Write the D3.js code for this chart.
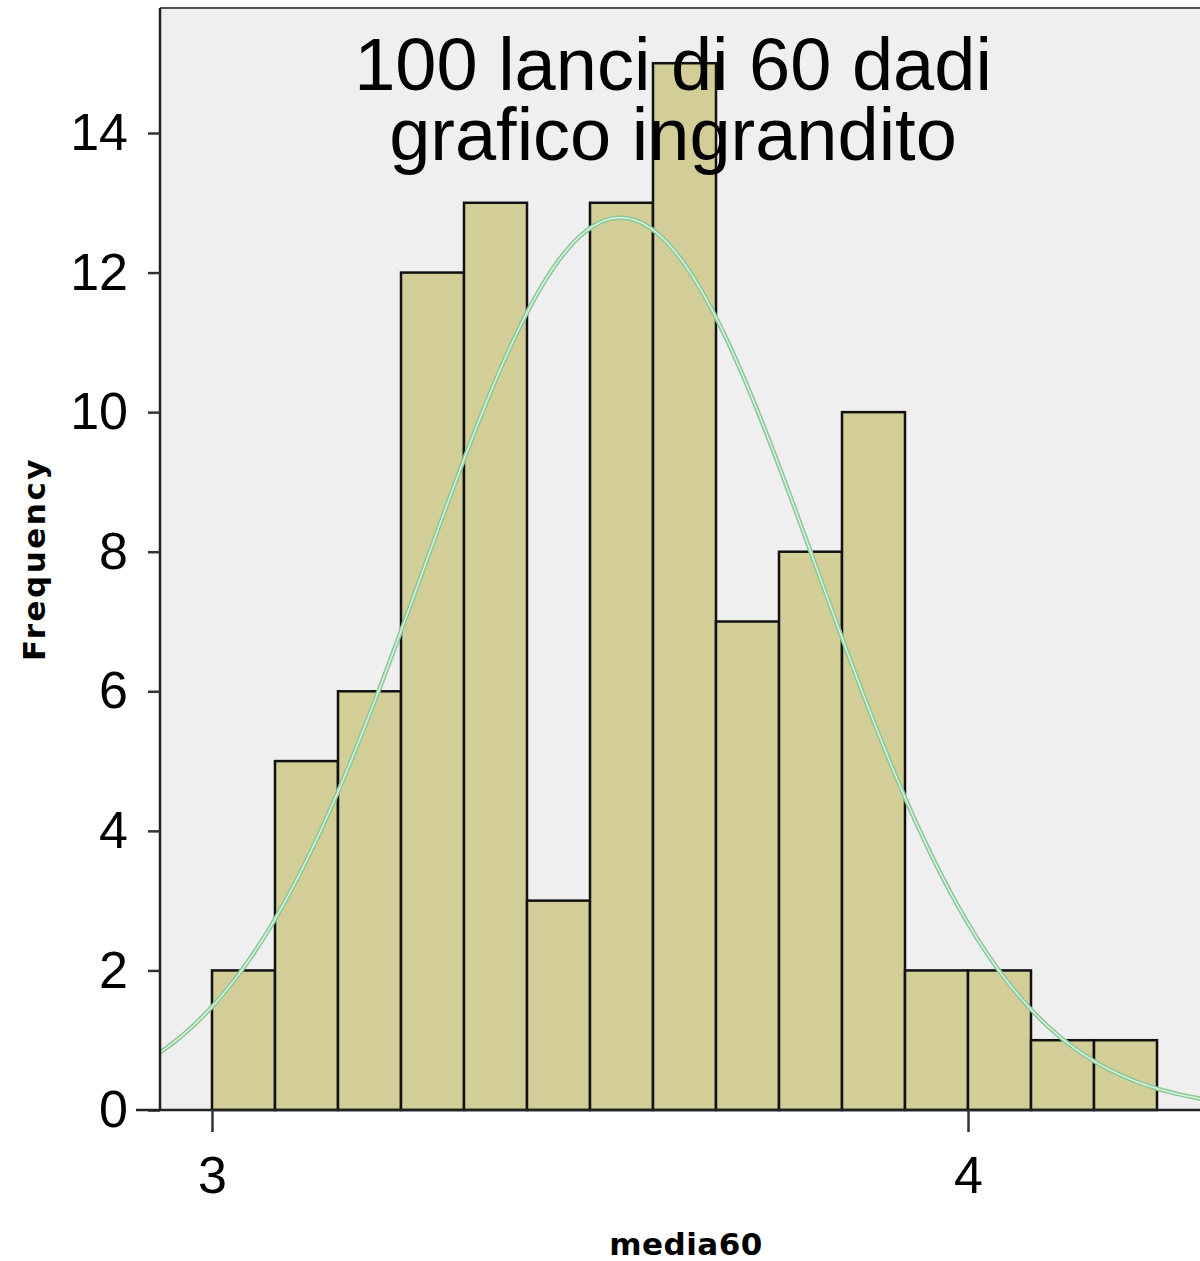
<!DOCTYPE html>
<html><head><meta charset="utf-8">
<script src="https://cdn.jsdelivr.net/npm/d3@7"></script>
<style>body{margin:0;background:#fff}svg{display:block}</style>
</head><body>
<svg id="c" width="1200" height="1261"></svg>
<script>
const binStart = 3.0;
const binWidth = 1/12;
const counts = [2,5,6,12,13,3,13,15,7,8,10,2,2,1,1];
const yTicks = [0,2,4,6,8,10,12,14];
const xTicks = [3,4];
const titleLines = ["100 lanci di 60 dadi","grafico ingrandito"];
const curveMean = 3.54, curveSd = 0.26, curveN = 100;

const svg = d3.select("#c");
const L = 160, T = 8, R = 1200, B = 1110;
const x = d3.scaleLinear().domain([3,4]).range([212,968]);
const y = d3.scaleLinear().domain([0,14]).range([B,133]);

svg.append("rect").attr("x",L).attr("y",T).attr("width",R-L+5).attr("height",B-T).attr("fill","#efefef");
svg.append("line").attr("x1",L).attr("x2",R).attr("y1",T).attr("y2",T).attr("stroke","#555").attr("stroke-width",2);

const bins = counts.map((c,i)=>({x0:binStart+i*binWidth,x1:binStart+(i+1)*binWidth,c}));
svg.append("g").selectAll("rect").data(bins).join("rect")
  .attr("x",d=>x(d.x0)).attr("width",d=>x(d.x1)-x(d.x0))
  .attr("y",d=>y(d.c)).attr("height",d=>B-y(d.c))
  .attr("fill","#d3ce97").attr("stroke","#111").attr("stroke-width",2.5);

// normal curve
const dom = [x.invert(L), x.invert(R+5)];
const pts = d3.range(0,301).map(i=>{const v=dom[0]+(dom[1]-dom[0])*i/300;
  const dens = curveN*binWidth/(curveSd*Math.sqrt(2*Math.PI))*Math.exp(-0.5*((v-curveMean)/curveSd)**2);
  return [v,dens];});
const line = d3.line().x(d=>x(d[0])).y(d=>y(d[1])).curve(d3.curveBasis);
svg.append("path").attr("d",line(pts)).attr("fill","none").attr("stroke","#88c897").attr("stroke-width",4.5);
svg.append("path").attr("d",line(pts)).attr("fill","none").attr("stroke","#dcf1df").attr("stroke-width",1.5);

// axes
const ya = svg.append("g").attr("transform",`translate(${L},0)`).call(d3.axisLeft(y).tickValues(yTicks).tickSize(12).tickPadding(20).tickSizeOuter(0));
ya.select(".domain").attr("d",`M0,${T}V${B}`).attr("stroke","#222").attr("stroke-width",2.5);
ya.selectAll(".tick line").attr("stroke","#333").attr("stroke-width",2.5);
ya.selectAll("text").attr("font-family","Liberation Sans, Arial, sans-serif").attr("font-size",52).attr("fill","#000");

const xa = svg.append("g").attr("transform",`translate(0,${B})`).call(d3.axisBottom(x).tickValues(xTicks).tickFormat(d3.format("d")).tickSize(22).tickPadding(24).tickSizeOuter(0));
xa.select(".domain").attr("d",`M${L-24},0H${R}`).attr("stroke","#222").attr("stroke-width",2.5);
xa.selectAll(".tick line").attr("stroke","#333").attr("stroke-width",2.5);
xa.selectAll("text").attr("font-family","Liberation Sans, Arial, sans-serif").attr("font-size",52).attr("fill","#000");

// title
svg.append("text").attr("x",673).attr("y",90).attr("text-anchor","middle")
  .attr("font-family","Liberation Sans, Arial, sans-serif").attr("font-size",74).text(titleLines[0]);
svg.append("text").attr("x",673).attr("y",160).attr("text-anchor","middle")
  .attr("font-family","Liberation Sans, Arial, sans-serif").attr("font-size",74).text(titleLines[1]);

// axis labels
svg.append("text").attr("transform","translate(45,559) rotate(-90)").attr("text-anchor","middle")
  .attr("font-family","DejaVu Sans, sans-serif").attr("font-weight","bold").attr("font-size",31).attr("letter-spacing","2.5px").text("Frequency");
svg.append("text").attr("x",686).attr("y",1255).attr("text-anchor","middle")
  .attr("font-family","DejaVu Sans, sans-serif").attr("font-weight","bold").attr("font-size",31).attr("letter-spacing","0.5px").text("media60");
</script>
</body></html>
